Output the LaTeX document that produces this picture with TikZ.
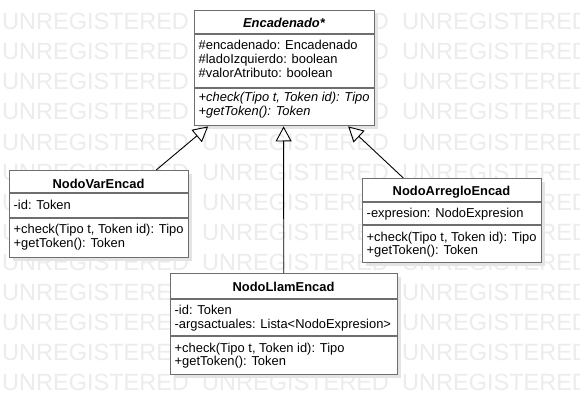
\documentclass[tikz,border=0pt]{standalone}
\usepackage{fontspec}
\setmainfont{Liberation Sans}
\usetikzlibrary{arrows.meta,calc,shadows}
\definecolor{wm}{RGB}{236,236,236}
\definecolor{bord}{RGB}{110,110,110}
\definecolor{shad}{RGB}{228,228,228}
\tikzset{
  wmtext/.style={anchor=base west, inner sep=0pt, text=wm, font=\fontsize{23.5}{24}\selectfont},
  classbox/.style={draw=bord, line width=1.4pt, fill=white, inner sep=0pt, anchor=north west,
    drop shadow={shadow xshift=3.5pt, shadow yshift=-3.5pt, fill=shad, opacity=1}},
  sepline/.style={draw=bord, line width=1.4pt},
  hdr/.style={anchor=base, inner sep=0pt, font=\fontsize{12.9}{14}\selectfont\bfseries},
  member/.style={anchor=base west, inner sep=0pt, font=\fontsize{12.9}{14}\selectfont},
  inherit/.style={draw=black, line width=0.9pt, -{Triangle[open,length=15pt,width=16pt]}},
}
\begin{document}
\begin{tikzpicture}[x=1pt,y=-1pt]
\useasboundingbox[fill=white] (0,0) rectangle (580,414);
% watermark
\foreach \k in {0,...,12}{
  \foreach \j in {0,1,2}{
    \node[wmtext] (wm-\k-\j) at ({2+200*\j},{30+30*\k}) {UNREGISTERED};
  }
}
% Encadenado
\node[classbox, minimum width=180pt, minimum height=115pt] (enc) at (194,10) {};
\draw[sepline] (enc.west |- 0,34) -- (enc.east |- 0,34);
\draw[sepline] (enc.west |- 0,88) -- (enc.east |- 0,88);
\node[hdr] (enchdr) at (284,28) {\itshape Encadenado*};
\node[member] (enca1) at (198.5,50) {\#encadenado: Encadenado};
\node[member] (enca2) at (198.5,64) {\#ladoIzquierdo: boolean};
\node[member] (enca3) at (198.5,78) {\#valorAtributo: boolean};
\node[member] (encm1) at (198.5,102) {\itshape +check(Tipo t, Token id): Tipo};
\node[member] (encm2) at (198.5,116) {\itshape +getToken(): Token};
% NodoVarEncad
\node[classbox, minimum width=179pt, minimum height=87pt] (var) at (9,170) {};
\draw[sepline] (var.west |- 0,193) -- (var.east |- 0,193);
\draw[sepline] (var.west |- 0,218) -- (var.east |- 0,218);
\node[hdr] (varhdr) at (98.5,188) {NodoVarEncad};
\node[member] (vara1) at (13.5,209.5) {-id: Token};
\node[member] (varm1) at (13.5,233.5) {+check(Tipo t, Token id): Tipo};
\node[member] (varm2) at (13.5,247) {+getToken(): Token};
% NodoArregloEncad
\node[classbox, minimum width=179pt, minimum height=84pt] (arr) at (362,178) {};
\draw[sepline] (arr.west |- 0,202) -- (arr.east |- 0,202);
\draw[sepline] (arr.west |- 0,225) -- (arr.east |- 0,225);
\node[hdr] (arrhdr) at (451.5,195.5) {NodoArregloEncad};
\node[member] (arra1) at (366.5,217) {-expresion: NodoExpresion};
\node[member] (arrm1) at (366.5,241) {+check(Tipo t, Token id): Tipo};
\node[member] (arrm2) at (366.5,254.5) {+getToken(): Token};
% NodoLlamEncad
\node[classbox, minimum width=227pt, minimum height=101pt] (llam) at (170,273) {};
\draw[sepline] (llam.west |- 0,299) -- (llam.east |- 0,299);
\draw[sepline] (llam.west |- 0,336) -- (llam.east |- 0,336);
\node[hdr] (llamhdr) at (283.5,291) {NodoLlamEncad};
\node[member] (llama1) at (174.5,314.5) {-id: Token};
\node[member] (llama2) at (174.5,328) {-argsactuales: Lista<NodoExpresion>};
\node[member] (llamm1) at (174.5,352) {+check(Tipo t, Token id): Tipo};
\node[member] (llamm2) at (174.5,365.5) {+getToken(): Token};
% inheritance
\draw[inherit] ($(var.north west)!0.816!(var.north east)$) -- ($(enc.south west)!0.078!(enc.south east)$);
\draw[inherit] ($(llam.north west)!0.498!(llam.north east)$) -- ($(enc.south west)!0.494!(enc.south east)$);
\draw[inherit] ($(arr.north west)!0.229!(arr.north east)$) -- ($(enc.south west)!0.85!(enc.south east)$);
\end{tikzpicture}
\end{document}
